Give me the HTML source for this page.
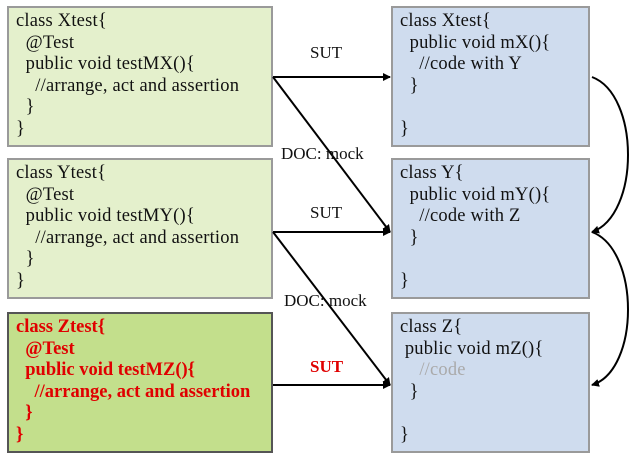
<!DOCTYPE html>
<html><head><style>
body{margin:0;width:639px;height:458px;background:#fff;position:relative;overflow:hidden;font-family:"Liberation Serif",serif;font-size:18.5px;color:#111}
.b{position:absolute;box-sizing:border-box;border:2px solid #9a9a9a;padding:3px 0 0 7px;line-height:21.5px;white-space:pre;letter-spacing:0.2px}
.g{background:#e4f0cc}
.z{background:#c3df8c;border-color:#555;color:#e00000;font-weight:bold;letter-spacing:0}
.bl{background:#cfdcee}
.l{position:absolute;font-size:17px;white-space:nowrap}
</style></head><body>
<div class="b g" style="left:7px;top:6px;width:266px;height:141px">class Xtest{
  @Test
  public void testMX(){
    //arrange, act and assertion
  }
}</div>
<div class="b g" style="left:7px;top:158px;width:266px;height:141px">class Ytest{
  @Test
  public void testMY(){
    //arrange, act and assertion
  }
}</div>
<div class="b z" style="left:7px;top:312px;width:266px;height:141px">class Ztest{
  @Test
  public void testMZ(){
    //arrange, act and assertion
  }
}</div>
<div class="b bl" style="left:391px;top:6px;width:199px;height:141px">class Xtest{
  public void mX(){
    //code with Y
  }

}</div>
<div class="b bl" style="left:391px;top:158px;width:199px;height:141px">class Y{
  public void mY(){
    //code with Z
  }

}</div>
<div class="b bl" style="left:391px;top:312px;width:199px;height:141px">class Z{
 public void mZ(){
    <span style="color:#aaa">//code</span>
  }

}</div>
<svg width="639" height="458" style="position:absolute;left:0;top:0">
<defs><marker id="a" markerWidth="8" markerHeight="8" refX="7" refY="4" orient="auto" markerUnits="userSpaceOnUse"><path d="M0,0L8,4L0,8z" fill="#000"/></marker></defs>
<g stroke="#000" stroke-width="2" fill="none" marker-end="url(#a)">
<path d="M273,77L390,77"/><path d="M273,77L390,232"/>
<path d="M273,232L390,232"/><path d="M273,232L390,385"/>
<path d="M273,385L390,385"/>
<path d="M592,77C640,95 640,215 592,232"/>
<path d="M592,232C640,250 640,370 592,385"/>
</g></svg>
<div class="l" style="left:310px;top:43px">SUT</div>
<div class="l" style="left:281px;top:144px">DOC: mock</div>
<div class="l" style="left:310px;top:203px">SUT</div>
<div class="l" style="left:284px;top:291px">DOC: mock</div>
<div class="l" style="left:310px;top:357px;color:#e00000;font-weight:bold">SUT</div>
</body></html>
